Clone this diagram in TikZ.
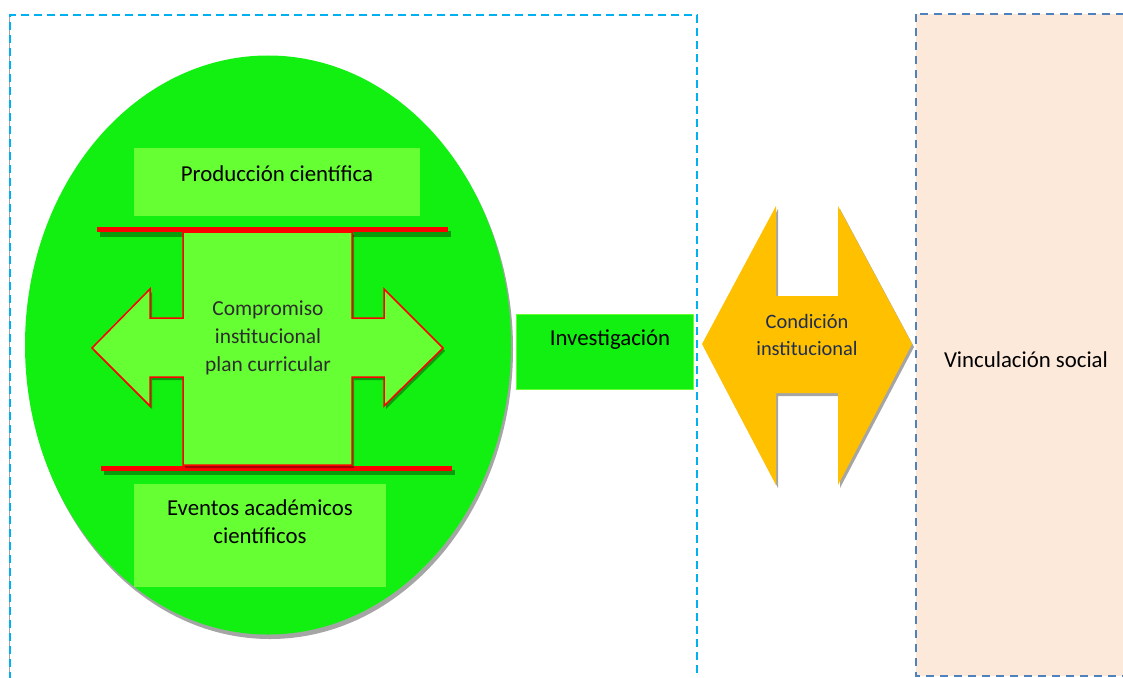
\documentclass[tikz,border=0pt]{standalone}
\usepackage{fontspec}
\setmainfont{Carlito}
\usetikzlibrary{shapes.geometric}
\definecolor{ovalgreen}{RGB}{18,240,18}
\definecolor{lightgreen}{RGB}{102,255,51}
\definecolor{boxblue}{RGB}{0,176,240}
\definecolor{peach}{RGB}{252,233,218}
\definecolor{peachborder}{RGB}{79,129,189}
\definecolor{orangeshape}{RGB}{255,192,0}
\definecolor{navytext}{RGB}{31,45,80}
\definecolor{graytext}{RGB}{45,45,45}
\definecolor{shadowgray}{RGB}{165,165,165}
\begin{document}
\begin{tikzpicture}[x=1pt,y=-1pt,
  lbl/.style={inner sep=0pt, align=center, font=\fontsize{22.8}{28}\selectfont},
  greenbox/.style={fill=lightgreen, draw=none, inner sep=0pt},
  redbar/.style={fill=red, draw=none},
  darkshadow/.style={fill=black, fill opacity=0.35, draw=none}]
\useasboundingbox (0,0) rectangle (1123,677);
% right peach box
\draw[fill=peach, draw=peachborder, line width=2pt, dash pattern=on 8pt off 6pt]
  (916,14) rectangle (1128,676);
% left dashed frame
\draw[shadowgray, line width=1pt] (9,17) -- (9,680);
\draw[boxblue, line width=1.5pt, dash pattern=on 8pt off 5pt]
  (10,680) -- (10,15) -- (697,15) -- (697,680);
% oval
\fill[shadowgray] (270,349) ellipse [x radius=243pt, y radius=290pt];
\node[ellipse, fill=ovalgreen, inner sep=0pt, minimum width=486pt, minimum height=579pt] (oval) at (268,345) {};
% boxes in oval
\node[greenbox, minimum width=286pt, minimum height=68pt] (prodbox) at (277,182) {};
\node[lbl] (prod) at (277,174) {Producción científica};
\node[greenbox, minimum width=252pt, minimum height=103pt] (evbox) at (260,535) {};
\node[lbl] (ev) at (260,522) {Eventos académicos\\científicos};
% red bars
\fill[darkshadow] (100,231) rectangle (451,237);
\fill[redbar] (97,227) rectangle (448,232);
\fill[darkshadow] (104,470) rectangle (455,475);
\fill[redbar] (101,466) rectangle (452,471);
% cross arrow
\fill[darkshadow, shift={(2pt,-3pt)}]
  (183,232) -- (352,232) -- (352,318) -- (384,318) -- (384,289) -- (443,348)
  -- (384,406) -- (384,377) -- (352,377) -- (352,465) -- (183,465) -- (183,377)
  -- (150,377) -- (150,406) -- (92,348) -- (150,289) -- (150,318) -- (183,318) -- cycle;
\draw[fill=lightgreen, draw=red, line width=1.5pt, line join=miter]
  (183,232) -- (352,232) -- (352,318) -- (384,318) -- (384,289) -- (443,348)
  -- (384,406) -- (384,377) -- (352,377) -- (352,465) -- (183,465) -- (183,377)
  -- (150,377) -- (150,406) -- (92,348) -- (150,289) -- (150,318) -- (183,318) -- cycle;
\node[lbl, text=graytext, font=\fontsize{21.4}{28}\selectfont] (comp) at (268,338)
  {Compromiso\\institucional\\plan curricular};
% Investigacion
\node[fill=ovalgreen, draw=lightgreen, line width=1pt, minimum width=177pt, minimum height=75pt, inner sep=0pt] (invbox) at (604.5,351.5) {};
\node[lbl] (inv) at (610,340) {Investigación};
% Condicion shape
\fill[shadowgray, shift={(2pt,-3pt)}]
  (702,344) -- (776,206) -- (776,296) -- (838,296) -- (838,206) -- (912,344)
  -- (838,485) -- (838,393) -- (776,393) -- (776,485) -- cycle;
\fill[orangeshape]
  (702,344) -- (776,206) -- (776,296) -- (838,296) -- (838,206) -- (912,344)
  -- (838,485) -- (838,393) -- (776,393) -- (776,485) -- cycle;
\node[lbl, text=navytext, font=\fontsize{20.4}{27}\selectfont] (cond) at (807,335)
  {Condición\\institucional};
% Vinculacion
\node[lbl] (vinc) at (1026,360) {Vinculación social};
\end{tikzpicture}
\end{document}
